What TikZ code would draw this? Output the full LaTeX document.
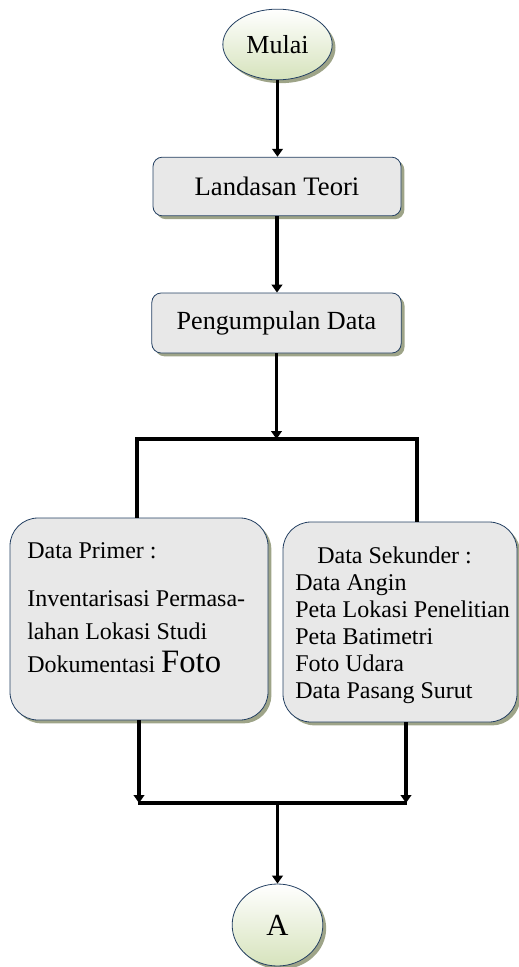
\documentclass[tikz,border=0pt]{standalone}
\usepackage{fontspec}
\setmainfont{Liberation Serif}
\usepackage{xcolor}
\usepackage{tikz}
\usetikzlibrary{shapes.geometric,shadows,arrows.meta}

\definecolor{garisbiru}{RGB}{36,64,98}
\definecolor{bayangan}{RGB}{158,164,136}
\definecolor{hijaumuda}{RGB}{214,227,188}
\definecolor{granit}{RGB}{232,232,232}

\tikzset{
  kotak/.style={draw=garisbiru, line width=0.6pt, fill=granit, rounded corners=7pt, inner sep=0pt,
    drop shadow={shadow xshift=2.5pt, shadow yshift=-2.5pt, fill=bayangan, opacity=1}},
  terminal/.style={ellipse, draw=garisbiru, line width=0.6pt, top color=white, bottom color=hijaumuda, inner sep=0pt,
    drop shadow={shadow xshift=2.5pt, shadow yshift=-2.5pt, fill=bayangan, opacity=1}},
  isi/.style={inner sep=0pt, align=left},
  panah/.style={line width=2.8pt, -{Triangle[length=6pt,width=8pt]}},
  garis/.style={line width=2.8pt},
}

\begin{document}
\begin{tikzpicture}[x=0.75pt,y=-0.75pt]
        \useasboundingbox (0,0) rectangle (518,967);

        % Mulai dan A
        \node[terminal, minimum width=82pt, minimum height=53pt, font=\fontsize{19.5}{23}\selectfont] (mulai) at (277.5,44.5) {Mulai};
        \node[terminal, minimum width=68pt, minimum height=61.5pt, font=\fontsize{23}{27}\selectfont] (akhir) at (277.5,925) {A};

        % Kotak proses
        \node[kotak, minimum width=186pt, minimum height=44pt, font=\fontsize{20}{24}\selectfont] (landasan) at (277,186.5) {Landasan Teori};
        \node[kotak, minimum width=187pt, minimum height=45pt, font=\fontsize{19.6}{24}\selectfont] (pengumpulan) at (276.5,323) {Pengumpulan Data};
        \node[kotak, rounded corners=21pt, minimum width=193.5pt, minimum height=151.5pt] (primer) at (139,619) {};
        \node[kotak, rounded corners=21pt, minimum width=175.5pt, minimum height=150pt] (sekunder) at (400,622) {};

        % Isi kotak data (base = baris terakhir)
        \node[isi, anchor=base west, font=\fontsize{18}{24.75}\selectfont] (isiprimer) at (27,672)
          {Data Primer :\\[11pt]Inventarisasi Permasa-\\lahan Lokasi Studi\\Dokumentasi {\fontsize{24.5}{28}\selectfont Foto}};
        \node[isi, anchor=base west, font=\fontsize{18}{20.25}\selectfont] (isisekunder) at (295,698)
          {\hspace*{16.5pt}Data Sekunder :\\Data Angin\\Peta Lokasi Penelitian\\Peta Batimetri\\Foto Udara\\Data Pasang Surut};

        % Cabang
        \coordinate (cabang) at (277,439);
        \coordinate (cabangkiri) at (137,439);
        \coordinate (cabangkanan) at (417,439);
        % Gabung
        \coordinate (gabungkiri) at (138,803);
        \coordinate (gabungkanan) at (407,803);
        \coordinate (turunkanan) at (406,803);

        % Alur
        \draw[panah] (mulai.south) -- (mulai.south |- landasan.north);
        \draw[panah] (landasan.south) -- (landasan.south |- pengumpulan.north);
        \draw[panah] (pengumpulan.south) -- (pengumpulan.south |- cabang);
        \draw[garis] (cabangkiri |- primer.north) -- (cabangkiri) -- (cabangkanan) -- (cabangkanan |- sekunder.north);
        \draw[panah] (primer.south) -- (primer.south |- gabungkiri);
        \draw[panah] (turunkanan |- sekunder.south) -- (turunkanan);
        \draw[garis] (gabungkiri) -- (gabungkanan);
        \draw[panah] (akhir.north |- gabungkiri) -- (akhir.north);

    \end{tikzpicture}
\end{document}
